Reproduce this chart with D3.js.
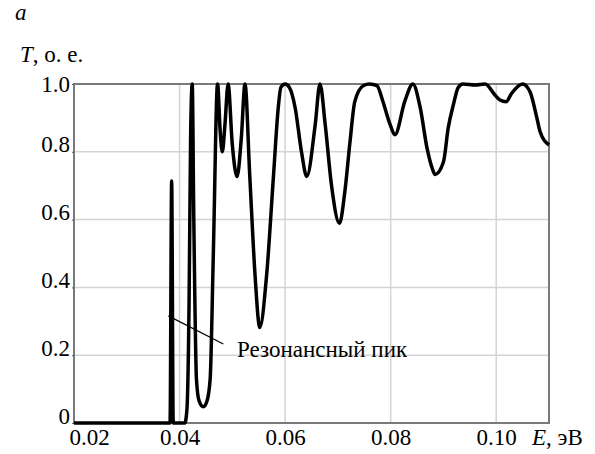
<!DOCTYPE html>
<html>
<head>
<meta charset="utf-8">
<script src="https://cdn.jsdelivr.net/npm/d3@7"></script>
<style>
  body { margin: 0; background: #fff; }
</style>
</head>
<body>
<div id="chart"></div>
<script>
// curve: energy (eV) and transmission
var energy = [0.020, 0.0382, 0.0385, 0.0388, 0.0410, 0.0414, 0.0418, 0.0421, 0.0424, 0.0427,
  0.0432, 0.0437, 0.0445, 0.0452, 0.0458, 0.0464, 0.0472, 0.0477, 0.0481, 0.0486,
  0.0492, 0.0500, 0.0509, 0.0517, 0.0524, 0.0533, 0.0543, 0.0552, 0.0565, 0.0578,
  0.0587, 0.0592, 0.0600, 0.0608, 0.0619, 0.0631, 0.0641, 0.0657, 0.0666, 0.0676,
  0.0688, 0.0703, 0.0713, 0.0723, 0.0732, 0.0748, 0.0760, 0.0774, 0.0785, 0.0799,
  0.0808, 0.0827, 0.0842, 0.0856, 0.0869, 0.0879, 0.0884, 0.0900, 0.0909, 0.0919,
  0.0928, 0.0937, 0.0960, 0.0979, 0.0998, 0.1007, 0.1019, 0.1029, 0.1050, 0.1064,
  0.1077, 0.1083, 0.1100];
var transmission = [0, 0, 0.714, 0, 0, 0.04, 0.35, 0.85, 1.0, 0.6,
  0.13, 0.065, 0.048, 0.065, 0.13, 0.5, 1.0, 0.86, 0.80, 0.88,
  1.0, 0.82, 0.727, 0.84, 1.0, 0.73, 0.437, 0.282, 0.437, 0.73,
  0.93, 0.99, 1.0, 0.99, 0.93, 0.80, 0.727, 0.88, 1.0, 0.88,
  0.70, 0.589, 0.68, 0.83, 0.948, 0.995, 1.0, 0.995, 0.95, 0.88,
  0.85, 0.95, 1.0, 0.93, 0.81, 0.75, 0.733, 0.77, 0.87, 0.94,
  0.99, 1.0, 0.997, 1.0, 0.967, 0.953, 0.948, 0.972, 1.0, 0.977,
  0.90, 0.86, 0.82];

var xTicks = [0.02, 0.04, 0.06, 0.08, 0.10];
var xTickLabels = ["0.02", "0.04", "0.06", "0.08", "0.10"];
var yTicks = [0, 0.2, 0.4, 0.6, 0.8, 1.0];
var yTickLabels = ["0", "0.2", "0.4", "0.6", "0.8", "1.0"];

// annotation: from the spike to the label
var noteFrom = [0.03787, 0.316];
var noteTo = [0.04829, 0.233];
var noteText = "Резонансный пик";
var notePos = [0.0509, 0.195];

var width = 595, height = 454;
var margin = {top: 84, right: 46, bottom: 31, left: 74};
var serif = "'Liberation Serif', 'Times New Roman', Times, 'DejaVu Serif', serif";
var fs = 23;

var svg = d3.select("#chart").append("svg")
    .attr("width", width)
    .attr("height", height)
    .attr("font-family", serif);

var x = d3.scaleLinear().domain([0.02, 0.11]).range([margin.left, width - margin.right]);
var y = d3.scaleLinear().domain([0, 1]).range([height - margin.bottom, margin.top]);

// grid
svg.append("g").selectAll("line")
    .data(xTicks.slice(1))
    .enter().append("line")
    .attr("x1", function(d) { return x(d); })
    .attr("x2", function(d) { return x(d); })
    .attr("y1", y(0))
    .attr("y2", y(1))
    .attr("stroke", "#d4d4d4")
    .attr("stroke-width", 1.5);

svg.append("g").selectAll("line")
    .data(yTicks.slice(1, -1))
    .enter().append("line")
    .attr("x1", x(0.02))
    .attr("x2", x(0.11))
    .attr("y1", function(d) { return y(d); })
    .attr("y2", function(d) { return y(d); })
    .attr("stroke", "#d4d4d4")
    .attr("stroke-width", 1.5);

// frame
svg.append("rect")
    .attr("x", x(0.02))
    .attr("y", y(1))
    .attr("width", x(0.11) - x(0.02))
    .attr("height", y(0) - y(1))
    .attr("fill", "none")
    .attr("stroke", "#7a7a7a")
    .attr("stroke-width", 2);

// axes
var yAxis = svg.append("g")
    .attr("transform", "translate(" + x(0.02) + ",0)")
    .call(d3.axisLeft(y).tickValues(yTicks).tickSize(2).tickSizeOuter(0)
        .tickFormat(function(d, i) { return yTickLabels[i]; }));
yAxis.attr("font-family", serif).attr("font-size", fs);
yAxis.select(".domain").remove();
yAxis.selectAll("line").attr("stroke", "#555");
yAxis.selectAll("text")
    .attr("x", -4)
    .attr("dy", function(d) { return d == 1 ? "0.33em" : "0"; })
    .attr("fill", "#000");

var xAxis = svg.append("g")
    .attr("transform", "translate(0," + y(0) + ")")
    .call(d3.axisBottom(x).tickValues(xTicks).tickSize(0).tickSizeOuter(0)
        .tickFormat(function(d, i) { return xTickLabels[i]; }));
xAxis.attr("font-family", serif).attr("font-size", fs);
xAxis.select(".domain").remove();
xAxis.selectAll("text")
    .attr("y", 22)
    .attr("dy", "0")
    .attr("x", function(d, i) { return i == 0 ? 15 : 0; })
    .attr("fill", "#000");

// curve
var pts = energy.map(function(e, i) { return [e, transmission[i]]; });
var line = d3.line()
    .x(function(d) { return x(d[0]); })
    .y(function(d) { return y(d[1]); })
    .curve(d3.curveMonotoneX);

svg.append("path")
    .datum(pts)
    .attr("d", line)
    .attr("fill", "none")
    .attr("stroke", "#000")
    .attr("stroke-width", 3.5)
    .attr("stroke-linejoin", "round");

// annotation
svg.append("line")
    .attr("x1", x(noteFrom[0])).attr("y1", y(noteFrom[1]))
    .attr("x2", x(noteTo[0])).attr("y2", y(noteTo[1]))
    .attr("stroke", "#000")
    .attr("stroke-width", 1.2);

svg.append("text")
    .attr("x", x(notePos[0]))
    .attr("y", y(notePos[1]))
    .attr("font-size", fs)
    .text(noteText);

// labels
var xl = svg.append("text")
    .attr("x", 532)
    .attr("y", y(0) + 22)
    .attr("font-size", fs);
xl.append("tspan").attr("font-style", "italic").text("E");
xl.append("tspan").text(", эВ");

var yl = svg.append("text")
    .attr("x", 20)
    .attr("y", 62)
    .attr("font-size", fs);
yl.append("tspan").attr("font-style", "italic").text("T");
yl.append("tspan").text(", о. е.");

svg.append("text")
    .attr("x", 15)
    .attr("y", 20)
    .attr("font-size", fs)
    .attr("font-style", "italic")
    .text("a");
</script>
</body>
</html>
